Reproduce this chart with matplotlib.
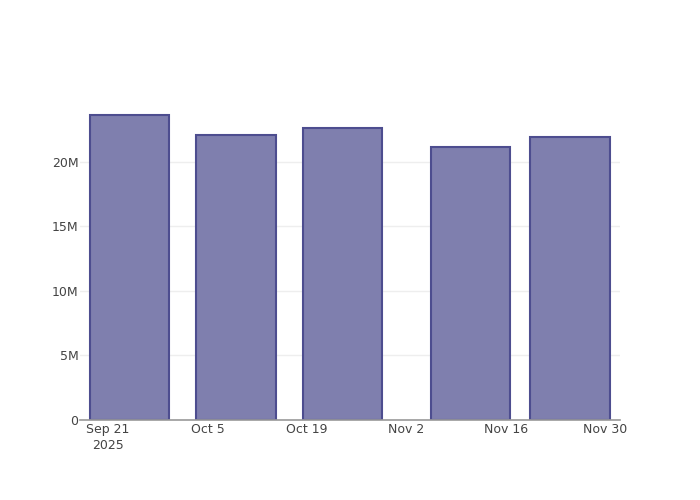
import matplotlib.pyplot as plt
import matplotlib.dates as mdates
import numpy as np
import pandas as pd

# weekly-ish totals
dates = pd.to_datetime(["2025-09-24", "2025-10-09", "2025-10-24", "2025-11-11", "2025-11-25"])
values = [23.6e6, 22.1e6, 22.6e6, 21.15e6, 21.9e6]

tick_dates = pd.to_datetime(["2025-09-21", "2025-10-05", "2025-10-19",
                             "2025-11-02", "2025-11-16", "2025-11-30"])
tick_labels = ["Sep 21\n2025", "Oct 5", "Oct 19", "Nov 2", "Nov 16", "Nov 30"]
y_ticks = [0, 5e6, 10e6, 15e6, 20e6]
y_labels = ["0", "5M", "10M", "15M", "20M"]

fig = plt.figure(figsize=(7, 5), dpi=100)
ax = fig.add_axes([80 / 700, 80 / 500, 540 / 700, 320 / 500])

ax.bar(dates, values, width=11.2, color="#7f7fae", edgecolor="#4d4d8f",
       linewidth=1.5, zorder=3)

ax.set_xlim(pd.Timestamp("2025-09-17 01:30"), pd.Timestamp("2025-12-02 01:00"))
ax.set_ylim(0, 24.8e6)

ax.set_xticks(tick_dates)
ax.set_xticklabels(tick_labels, linespacing=1.3)
ax.set_yticks(y_ticks)
ax.set_yticklabels(y_labels)

ax.tick_params(axis="both", length=0, labelsize=9, colors="#444444")
ax.tick_params(axis="x", pad=2)
ax.tick_params(axis="y", pad=1)
ax.grid(axis="y", color="#eeeeee", linewidth=1, zorder=0)

for side in ["top", "right", "left"]:
    ax.spines[side].set_visible(False)
ax.spines["bottom"].set_color("#999999")
ax.spines["bottom"].set_linewidth(1.2)
ax.spines["bottom"].set_zorder(4)

fig.savefig("out.png", dpi=100)
